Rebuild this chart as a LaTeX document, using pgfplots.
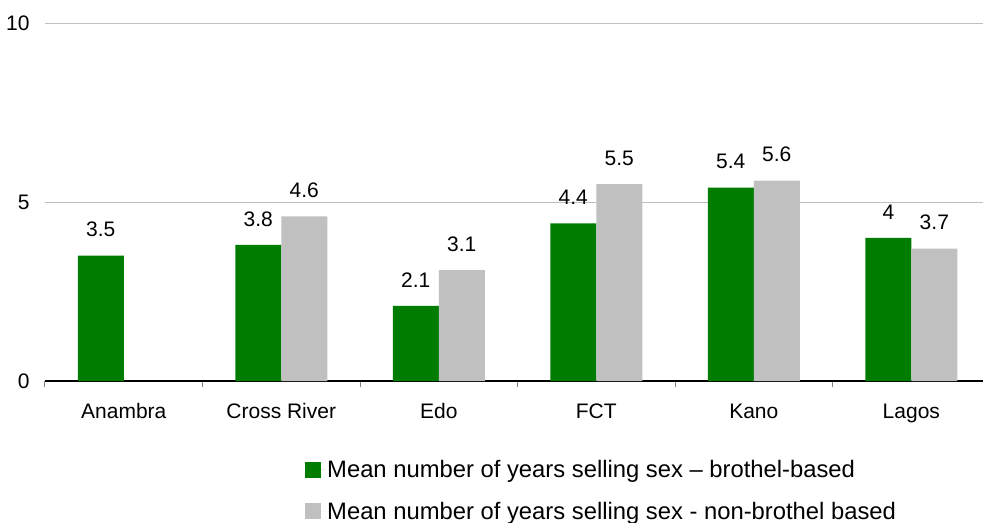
\documentclass[border=0pt]{standalone}
\usepackage{fontspec}
\setmainfont{Liberation Sans}
\usepackage{pgfplots}
\pgfplotsset{compat=1.18}
\definecolor{brothel}{HTML}{007D00}
\definecolor{nonbrothel}{HTML}{C0C0C0}
\definecolor{gridgray}{HTML}{C0C0C0}

\begin{document}
\begin{tikzpicture}
\begin{axis}[
    at={(0,0)}, anchor=south west,
    scale only axis,
    width=938bp, height=358bp,
    ybar=0pt,
    bar width=46bp,
    xmin=-0.5, xmax=5.455,
    ymin=0, ymax=10,
    ytick={0,5,10},
    ymajorgrids,
    grid style={gridgray, line width=0.8bp},
    axis x line*=bottom,
    axis y line*=left,
    y axis line style={draw=none},
    x axis line style={black, line width=1.2bp},
    ytick style={draw=none},
    xtick={0,...,5},
    xticklabels={Anambra, Cross River, Edo, FCT, Kano, Lagos},
    major x tick style={draw=none},
    minor xtick={-0.5,0.5,...,5.5},
    minor x tick style={gray, line width=1bp},
    minor tick length=6bp,
    xtick align=outside,
    tick label style={font=\fontsize{21bp}{25bp}\selectfont},
    xticklabel style={yshift=-15bp},
    yticklabel style={xshift=-12bp},
    /pgf/number format/assume math mode=true,
    nodes near coords,
    nodes near coords style={font=\fontsize{21bp}{25bp}\selectfont, anchor=south, yshift=15bp},
    legend style={draw=none, fill=none, at={(0.274,-0.21)}, anchor=north west,
        font=\fontsize{23.8bp}{28bp}\selectfont, row sep=19bp, legend cell align=left},
    legend image code/.code={\fill[#1] (0bp,-8bp) rectangle (16bp,8bp);
        \path (0bp,0bp) -- (20bp,0bp);},
]
\addplot[fill=brothel, draw=none] coordinates {(0,3.5) (1,3.8) (2,2.1) (3,4.4) (4,5.4) (5,4.0)};
\addplot[fill=nonbrothel, draw=none] coordinates {(1,4.6) (2,3.1) (3,5.5) (4,5.6) (5,3.7)};
\legend{Mean number of years selling sex – brothel-based, Mean number of years selling sex - non-brothel based}
\end{axis}
\pgfresetboundingbox
\path (-45bp,-142bp) rectangle (939bp,381bp);
\end{tikzpicture}
\end{document}
